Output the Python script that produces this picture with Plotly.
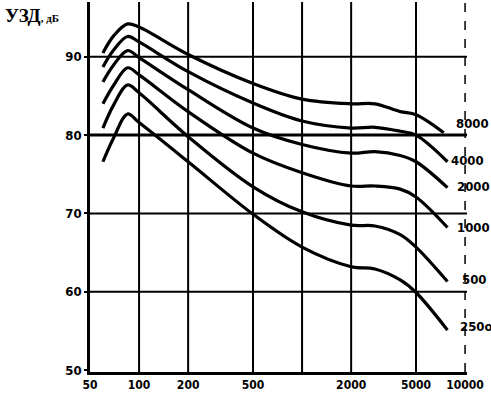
import math
import plotly.graph_objects as go

# ---- data ----
freq = [60, 70, 85, 100, 200, 500, 1000, 2000, 2800, 4000, 5000, 7800]
freq_top = [60, 70, 85, 100, 200, 500, 1000, 2000, 2800, 4000, 5000, 7400]

uzd_8000 = [90.5, 92.7, 94.2, 93.8, 90.3, 86.6, 84.6, 84.0, 84.0, 83.0, 82.6, 80.3]
uzd_4000 = [88.7, 90.9, 92.6, 91.9, 88.1, 84.1, 81.8, 80.9, 81.0, 80.5, 80.0, 76.6]
uzd_2000 = [86.8, 89.0, 90.8, 89.9, 85.8, 80.9, 78.8, 77.7, 77.9, 77.4, 76.6, 73.3]
uzd_1000 = [84.0, 86.4, 88.6, 87.7, 83.0, 77.7, 75.2, 73.5, 73.5, 73.1, 72.1, 68.2]
uzd_500 = [80.9, 83.9, 86.4, 85.4, 79.8, 73.4, 70.2, 68.5, 68.4, 67.3, 65.7, 61.3]
uzd_250 = [76.6, 79.7, 82.7, 81.6, 76.6, 69.9, 65.7, 63.2, 62.9, 61.5, 59.9, 55.1]

curve_labels = ["8000", "4000", "2000", "1000", "500", "250o"]
label_y = [81.5, 76.7, 73.5, 68.2, 61.5, 55.6]

x_tick_vals = [50, 100, 200, 500, 2000, 5000, 10000]
x_tick_text = ["50", "100", "200", "500", "2000", "5000", "10000"]
y_tick_vals = [50, 60, 70, 80, 90]

v_grid = [100, 200, 500, 1000, 2000, 5000]
v_grid_dashed = [10000]
h_grid = [60, 70, 90]
h_grid_bold = [80]

# ---- layout constants ----
X0_PX, PX_PER_DEC = 90, 163.0
def px_to_logf(px):
    return math.log10(50) + (px - X0_PX) / PX_PER_DEC

x_range = [math.log10(50), px_to_logf(467)]
y_range = [49.75, 97.0]
label_px = [454, 449, 455, 455, 460, 458]

FONT = "Liberation Sans Narrow, DejaVu Sans Condensed, Arial Narrow, sans-serif"

fig = go.Figure()

def add_lines(xs_list, ys_list, width, dash="solid"):
    xs, ys = [], []
    for a, b in zip(xs_list, ys_list):
        xs += a + [None]
        ys += b + [None]
    fig.add_trace(go.Scatter(x=xs, y=ys, mode="lines", hoverinfo="skip",
                             line=dict(color="black", width=width, dash=dash),
                             showlegend=False))

fmin, fmax = 50, 10 ** x_range[1]
add_lines([[f, f] for f in v_grid], [y_range for _ in v_grid], 2)
add_lines([[f, f] for f in v_grid_dashed], [y_range for _ in v_grid_dashed], 1.5, "dash")
add_lines([[fmin, fmax] for _ in h_grid], [[v, v] for v in h_grid], 2)
add_lines([[fmin, fmax] for _ in h_grid_bold], [[v, v] for v in h_grid_bold], 3)

series = [(freq_top, uzd_8000), (freq, uzd_4000), (freq, uzd_2000),
          (freq, uzd_1000), (freq, uzd_500), (freq, uzd_250)]
for (fx, vy), name in zip(series, curve_labels):
    fig.add_trace(go.Scatter(x=fx, y=vy, mode="lines", name=name,
                             line=dict(color="black", width=3.2, shape="spline", smoothing=1.0),
                             showlegend=False))

for txt, yv, px in zip(curve_labels, label_y, label_px):
    fig.add_annotation(x=px_to_logf(px), y=yv, text=txt, showarrow=False,
                       xanchor="left", yanchor="middle",
                       font=dict(family=FONT, size=13, color="black", weight="bold"))

fig.add_annotation(xref="paper", yref="paper", x=(3 - 90) / 377.0, y=(372 - 16) / 370.0,
                   text="<b>УЗД</b><span style='font-size:11px'><b>, дБ</b></span>",
                   showarrow=False, xanchor="left", yanchor="middle",
                   font=dict(family="Liberation Serif, DejaVu Serif, serif", size=19, color="black"))

fig.update_layout(
    width=491, height=396,
    margin=dict(l=90, r=24, t=2, b=24),
    paper_bgcolor="white", plot_bgcolor="white",
    xaxis=dict(type="log", range=x_range, showgrid=False, zeroline=False,
               showline=True, linecolor="black", linewidth=2.5,
               tickmode="array", tickvals=x_tick_vals, ticktext=x_tick_text,
               ticks="", tickfont=dict(family=FONT, size=12, color="black", weight="bold")),
    yaxis=dict(range=y_range, showgrid=False, zeroline=False,
               showline=True, linecolor="black", linewidth=2.5,
               tickmode="array", tickvals=y_tick_vals,
               ticks="outside", ticklen=3, tickwidth=2, tickcolor="black",
               tickfont=dict(family=FONT, size=13, color="black", weight="bold")),
)

fig.write_html("out.html", config={"displayModeBar": False},
               post_script="document.body.style.margin='0';document.body.style.overflow='hidden';")
